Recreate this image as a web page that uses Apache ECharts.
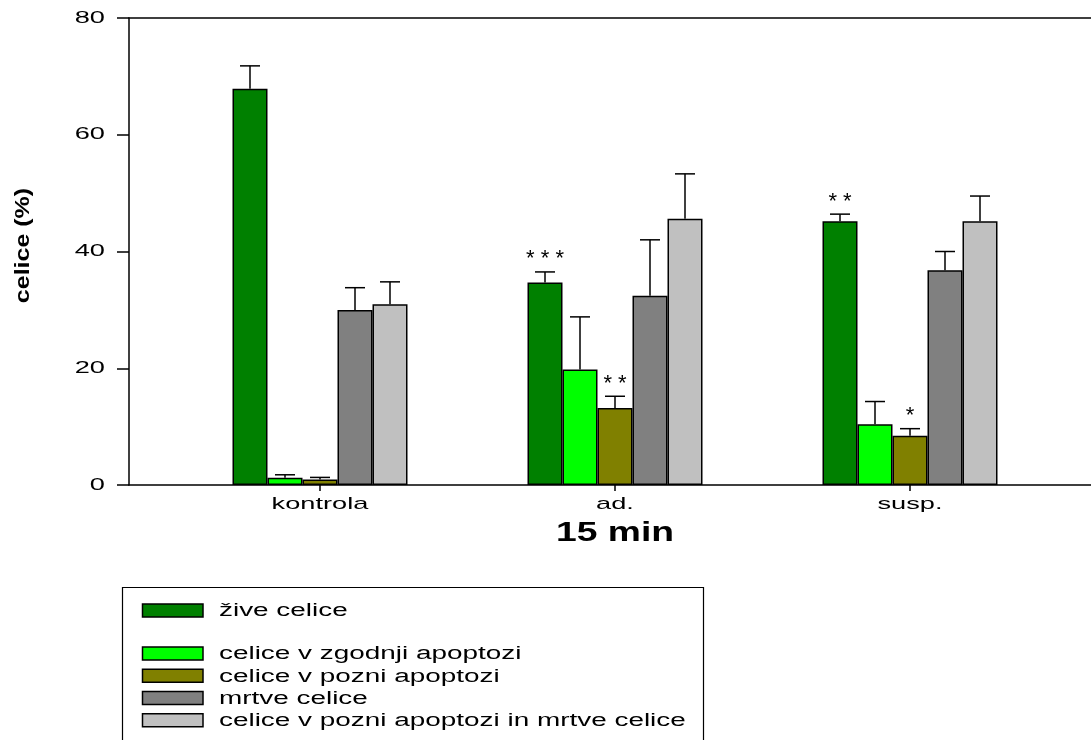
<!DOCTYPE html>
<html>
<head>
<meta charset="utf-8">
<script src="https://cdn.jsdelivr.net/npm/echarts@6/dist/echarts.min.js"></script>
<style>
  html, body { margin: 0; padding: 0; background: #fff; }
  #chart { width: 1091px; height: 740px; }
</style>
</head>
<body>
<div id="chart"></div>
<script>
// Delež celic (%) po 15 min: kontrola, adherentne in suspenzijske celice
const categories = ['kontrola', 'ad.', 'susp.'];

const seriesNames = [
  'žive celice',
  'celice v zgodnji apoptozi',
  'celice v pozni apoptozi',
  'mrtve celice',
  'celice v pozni apoptozi in mrtve celice'
];

const zive        = [67.9, 34.7, 45.2];
const ziveErr     = [3.9, 1.8, 1.2];
const zgodnja     = [1.25, 19.8, 10.4];
const zgodnjaErr  = [0.5, 9.0, 3.9];
const pozna       = [0.95, 13.2, 8.45];
const poznaErr    = [0.35, 2.0, 1.2];
const mrtve       = [30.0, 32.4, 36.8];
const mrtveErr    = [3.8, 9.6, 3.2];
const poznaMrtve    = [30.95, 45.6, 45.2];
const poznaMrtveErr = [3.85, 7.7, 4.3];

// Statistična značilnost (zvezdice nad stolpci)
const ziveStars  = ['', '* * *', '* *'];
const poznaStars = ['', '* *', '*'];

const yTicks = [0, 20, 40, 60, 80];
const xTitle = '15 min';
const yTitle = 'celice (%)';

const values = [zive, zgodnja, pozna, mrtve, poznaMrtve];
const errors = [ziveErr, zgodnjaErr, poznaErr, mrtveErr, poznaMrtveErr];
const stars  = [ziveStars, null, poznaStars, null, null];
const colors = ['#008000', '#00ff00', '#808000', '#808080', '#c0c0c0'];

const FONT = '"Liberation Sans", Arial, sans-serif';
const BAR_W = 35;
const nSeries = values.length;

const barSeries = values.map((vals, i) => ({
  type: 'bar',
  name: seriesNames[i],
  xAxisIndex: 2,
  yAxisIndex: 1,
  data: vals,
  barWidth: BAR_W,
  barGap: '0%',
  itemStyle: { color: colors[i], borderColor: '#000', borderWidth: 1.5 },
  emphasis: { disabled: true },
  z: 3
}));

// Error bars (upper whisker only) with significance marks
const errData = [];
values.forEach((vals, s) => {
  vals.forEach((v, c) => {
    errData.push([c, v, v + errors[s][c], s, stars[s] ? stars[s][c] : '']);
  });
});

const errSeries = {
  type: 'custom',
  xAxisIndex: 2,
  yAxisIndex: 1,
  data: errData,
  z: 4,
  silent: true,
  renderItem: function (params, api) {
    const c = api.value(0);
    const v = api.value(1);
    const top = api.value(2);
    const s = api.value(3);
    const mark = errData[params.dataIndex][4];
    const base = api.coord([c, v]);
    const tip = api.coord([c, top]);
    const x = base[0] + (s - (nSeries - 1) / 2) * BAR_W;
    const half = 10;
    const children = [
      { type: 'line', shape: { x1: x, y1: base[1], x2: x, y2: tip[1] },
        style: { stroke: '#000', lineWidth: 1.5 } },
      { type: 'line', shape: { x1: x - half, y1: tip[1], x2: x + half, y2: tip[1] },
        style: { stroke: '#000', lineWidth: 1.5 } }
    ];
    if (mark) {
      children.push({
        type: 'text',
        style: {
          x: x, y: tip[1] - 1.5, text: mark,
          align: 'center', verticalAlign: 'bottom',
          font: '22px ' + FONT, fill: '#000'
        }
      });
    }
    return { type: 'group', children: children };
  }
};

const option = {
  animation: false,
  backgroundColor: '#fff',
  grid: [
    { left: 129, right: 0, top: 18, bottom: 255 },
    { left: 172.5, right: 33.5, top: 18, bottom: 255 }
  ],
  xAxis: [
    { gridIndex: 0, type: 'value', min: 0, max: 1, position: 'bottom',
      axisLine: { show: true, lineStyle: { color: '#000', width: 1.5 } },
      axisTick: { show: false }, axisLabel: { show: false }, splitLine: { show: false } },
    { gridIndex: 0, type: 'value', min: 0, max: 1, position: 'top',
      axisLine: { show: true, lineStyle: { color: '#000', width: 1.5 } },
      axisTick: { show: false }, axisLabel: { show: false }, splitLine: { show: false } },
    { gridIndex: 1, type: 'category', data: categories, position: 'bottom',
      axisLine: { show: false },
      axisTick: { show: true, alignWithLabel: true, length: 6, lineStyle: { color: '#000', width: 1.5 } },
      axisLabel: { show: false } }
  ],
  yAxis: [
    { gridIndex: 0, type: 'value', min: 0, max: 80, interval: 20,
      axisLine: { show: true, lineStyle: { color: '#000', width: 1.5 } },
      axisTick: { show: true, length: 12, lineStyle: { color: '#000', width: 1.5 } },
      axisLabel: { show: false },
      splitLine: { show: false } },
    { gridIndex: 1, type: 'value', min: 0, max: 80, show: false }
  ],
  series: barSeries.concat([errSeries])
};

const chart = echarts.init(document.getElementById('chart'), null, { renderer: 'canvas' });
chart.setOption(option);

// All texts use a wide (horizontally stretched) face.
function wideText(x, y, text, font, sx, align, extra) {
  return Object.assign({
    type: 'text', x: x, y: y, scaleX: sx, silent: true, z: 10,
    style: { text: text, font: font, fill: '#000',
             align: align, textAlign: align,
             verticalAlign: 'middle', textVerticalAlign: 'middle' }
  }, extra || {});
}

const axisFont = '17px ' + FONT;
const labels = [];
const zeroY = chart.convertToPixel({ yAxisIndex: 0 }, 0);
const axisX = chart.convertToPixel({ xAxisIndex: 0 }, 0);

yTicks.forEach(v => {
  const py = chart.convertToPixel({ yAxisIndex: 0 }, v);
  labels.push(wideText(axisX - 24, py, String(v), axisFont, 1.6, 'right'));
});
categories.forEach((c, i) => {
  const px = chart.convertToPixel({ xAxisIndex: 2 }, i);
  labels.push(wideText(px, zeroY + 19, c, axisFont, 1.6, 'center'));
});
const midX = chart.convertToPixel({ xAxisIndex: 2 }, 1);
labels.push(wideText(midX, zeroY + 48, xTitle, 'bold 28px ' + FONT, 1.33, 'center'));

const midY = (chart.convertToPixel({ yAxisIndex: 0 }, 0) + chart.convertToPixel({ yAxisIndex: 0 }, 80)) / 2;
labels.push(wideText(23, midY - 6, yTitle, 'bold 20px ' + FONT, 1.25, 'center',
                     { rotation: Math.PI / 2 }));

// Legend box: one row per series, with an empty row after the first one
const legendRowY = [610.5, 653.5, 675.8, 698, 720.3];
const legendItems = [
  { type: 'rect', shape: { x: 122.5, y: 587.5, width: 581, height: 200 },
    style: { fill: 'none', stroke: '#000', lineWidth: 1.2 }, silent: true }
];
seriesNames.forEach((name, i) => {
  const cy = legendRowY[i];
  legendItems.push({
    type: 'rect', silent: true, z: 10,
    shape: { x: 142.5, y: cy - 6.5, width: 60.5, height: 13 },
    style: { fill: colors[i], stroke: '#000', lineWidth: 1.5 }
  });
  legendItems.push(wideText(219, cy + 1, name, '18px ' + FONT, 1.55, 'left'));
});

chart.setOption({ graphic: legendItems.concat(labels) });
</script>
</body>
</html>
